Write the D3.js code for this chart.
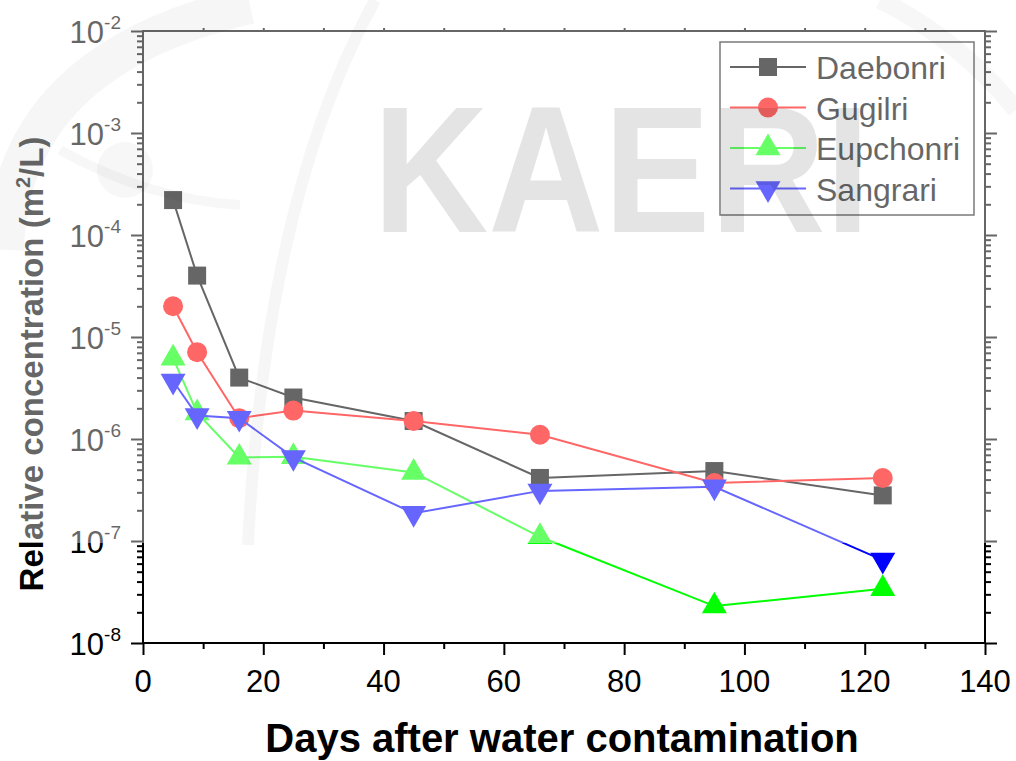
<!DOCTYPE html>
<html><head><meta charset="utf-8">
<script src="https://cdn.jsdelivr.net/npm/d3@7/dist/d3.min.js"></script>
<style>body{margin:0;background:#fff}svg{display:block}text{font-family:"Liberation Sans",Arial,sans-serif}</style>
</head><body>
<script>
const days = [5, 9, 16, 25, 45, 66, 95, 123];
const daebonri  = [2.2e-4, 4.0e-5, 4.0e-6, 2.55e-6, 1.5e-6, 4.15e-7, 4.85e-7, 2.8e-7];
const gugilri   = [2.0e-5, 7.1e-6, 1.6e-6, 1.9e-6, 1.5e-6, 1.1e-6, 3.7e-7, 4.15e-7];
const eupchonri = [6.2e-6, 1.8e-6, 6.6e-7, 6.7e-7, 4.7e-7, 1.1e-7, 2.3e-8, 3.4e-8];
const sangrari  = [3.7e-6, 1.7e-6, 1.6e-6, 6.6e-7, 1.87e-7, 3.1e-7, 3.4e-7, 6.5e-8];
const seriesNames = ["Daebonri", "Gugilri", "Eupchonri", "Sangrari"];
const xTicks = [0, 20, 40, 60, 80, 100, 120, 140];
const yExponents = [-2, -3, -4, -5, -6, -7, -8];
const xTitle = "Days after water contamination";
const watermark = "KAERI";

const W = 1016, H = 761;
const svg = d3.select("body").append("svg").attr("width", W).attr("height", H);
const x = d3.scaleLinear().domain([0, 140]).range([143, 985]);
const y = d3.scaleLog().domain([1e-8, 1e-2]).range([643, 31]);

const series = [
  {name: seriesNames[0], vals: daebonri, color: "#000000", shape: "square"},
  {name: seriesNames[1], vals: gugilri, color: "#ff0000", shape: "circle"},
  {name: seriesNames[2], vals: eupchonri, color: "#00ff00", shape: "up"},
  {name: seriesNames[3], vals: sangrari, color: "#0000ff", shape: "down"}
];
function markerPath(shape) {
  if (shape === "square") return "M-9,-9H9V9H-9Z";
  if (shape === "circle") return d3.symbol(d3.symbolCircle, Math.PI * 100)();
  const s = 25, h = s * Math.sqrt(3) / 2;
  if (shape === "up") return `M0,${-2*h/3}L${s/2},${h/3}L${-s/2},${h/3}Z`;
  return `M0,${2*h/3}L${s/2},${-h/3}L${-s/2},${-h/3}Z`;
}

// axes
const minorY = [];
for (let e = -8; e < -2; e++) for (let m = 2; m <= 9; m++) minorY.push(m * Math.pow(10, e));
const majorY = yExponents.map(e => Math.pow(10, e));
const ax = svg.append("g");
function styleAxis(g) { g.select(".domain").remove(); g.selectAll("line").attr("stroke", "#000").attr("stroke-width", 2); }
ax.append("g").attr("transform", "translate(0,643)").call(d3.axisBottom(x).tickValues(xTicks).tickSize(12).tickFormat("")).call(styleAxis);
ax.append("g").attr("transform", "translate(0,643)").call(d3.axisBottom(x).tickValues(d3.range(10, 140, 20)).tickSize(6).tickFormat("")).call(styleAxis);
ax.append("g").attr("transform", "translate(0,31)").call(d3.axisTop(x).tickValues(d3.range(10, 140, 10)).tickSize(3).tickFormat("")).call(styleAxis);
ax.append("g").attr("transform", "translate(143,0)").call(d3.axisLeft(y).tickValues(majorY).tickSize(12).tickFormat("")).call(styleAxis);
ax.append("g").attr("transform", "translate(143,0)").call(d3.axisLeft(y).tickValues(minorY).tickSize(6).tickFormat("")).call(styleAxis);
ax.append("g").attr("transform", "translate(985,0)").call(d3.axisRight(y).tickValues(majorY).tickSize(12).tickFormat("")).call(styleAxis);
ax.append("g").attr("transform", "translate(985,0)").call(d3.axisRight(y).tickValues(minorY).tickSize(6).tickFormat("")).call(styleAxis);
ax.append("rect").attr("x", 143).attr("y", 31).attr("width", 842).attr("height", 612)
  .attr("fill", "none").attr("stroke", "#000").attr("stroke-width", 2);

// tick labels
svg.append("g").selectAll("text").data(xTicks).join("text")
  .attr("x", d => x(d)).attr("y", 692).attr("text-anchor", "middle")
  .attr("font-size", 31).text(d => d);
const yl = svg.append("g").selectAll("text").data(yExponents).join("text")
  .attr("x", 121).attr("y", d => y(Math.pow(10, d)) + 12).attr("text-anchor", "end").attr("font-size", 31);
yl.append("tspan").text("10");
yl.append("tspan").attr("dy", -14).attr("font-size", 19).text(d => d);

// axis titles
svg.append("text").attr("x", 562).attr("y", 752).attr("text-anchor", "middle")
  .attr("font-size", 40).attr("font-weight", "bold").text(xTitle);
const yt = svg.append("text").attr("transform", "translate(43,364) rotate(-90)").attr("text-anchor", "middle")
  .attr("font-size", 33).attr("font-weight", "bold");
yt.append("tspan").text("Relative concentration (m");
yt.append("tspan").attr("dy", -13).attr("font-size", 20).text("2");
yt.append("tspan").attr("dy", 13).text("/L)");

// data
const line = d3.line().x(d => x(d[0])).y(d => y(d[1]));
series.forEach(s => {
  const pts = days.map((d, i) => [d, s.vals[i]]);
  const g = svg.append("g");
  g.append("path").attr("d", line(pts)).attr("fill", "none").attr("stroke", s.color).attr("stroke-width", 2);
  g.selectAll("path.m").data(pts).join("path").attr("class", "m")
    .attr("transform", d => `translate(${x(d[0])},${y(d[1])})`)
    .attr("d", markerPath(s.shape)).attr("fill", s.color);
});

// legend
const lg = svg.append("g");
lg.append("rect").attr("x", 720).attr("y", 42).attr("width", 254).attr("height", 173)
  .attr("fill", "#fff").attr("stroke", "#222").attr("stroke-width", 1.5);
series.forEach((s, i) => {
  const cy = 67 + i * 40.5;
  lg.append("line").attr("x1", 730).attr("x2", 806).attr("y1", cy).attr("y2", cy).attr("stroke", s.color).attr("stroke-width", 2);
  lg.append("path").attr("transform", `translate(768,${cy})`).attr("d", markerPath(s.shape)).attr("fill", s.color);
  lg.append("text").attr("x", 816).attr("y", cy + 12).attr("font-size", 32).text(s.name);
});

// watermark overlay
const wm = svg.append("g");
wm.append("rect").attr("x", 0).attr("y", 0).attr("width", W).attr("height", 543).attr("fill", "#fff").attr("opacity", 0.4);
wm.append("path").attr("d", "M5,250 Q10,60 250,5").attr("fill", "none").attr("stroke", "#000").attr("stroke-opacity", 0.035).attr("stroke-width", 38);
wm.append("path").attr("d", "M375,0 Q265,200 248,545").attr("fill", "none").attr("stroke", "#000").attr("stroke-opacity", 0.035).attr("stroke-width", 12);
wm.append("circle").attr("cx", 125).attr("cy", 170).attr("r", 28).attr("fill", "#000").attr("opacity", 0.03);
wm.append("path").attr("d", "M60,150 Q150,200 240,205").attr("fill", "none").attr("stroke", "#000").attr("stroke-opacity", 0.03).attr("stroke-width", 10);
wm.append("path").attr("d", "M880,0 Q960,40 1016,110").attr("fill", "none").attr("stroke", "#000").attr("stroke-opacity", 0.03).attr("stroke-width", 18);
wm.append("text").attr("x", 373).attr("y", 232).attr("font-size", 180).attr("font-weight", "bold")
  .attr("textLength", 497).attr("lengthAdjust", "spacingAndGlyphs")
  .attr("fill", "#000").attr("opacity", 0.1).text(watermark);
</script>
</body></html>
